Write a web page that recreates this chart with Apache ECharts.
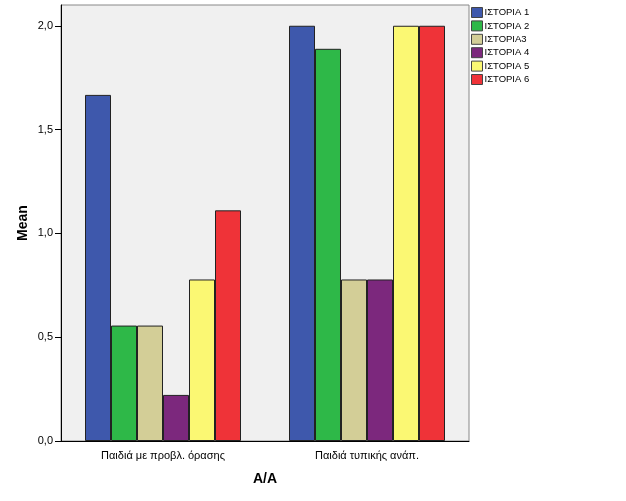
<!DOCTYPE html>
<html>
<head>
<meta charset="utf-8">
<script src="https://cdn.jsdelivr.net/npm/echarts@6/dist/echarts.min.js"></script>
<style>html,body{margin:0;padding:0;background:#fff;}#c{width:626px;height:501px;}</style>
</head>
<body>
<div id="c"></div>
<script>
var categories = ['Παιδιά με προβλ. όρασης', 'Παιδιά τυπικής ανάπ.'];
var seriesNames = ['ΙΣΤΟΡΙΑ 1', 'ΙΣΤΟΡΙΑ 2', 'ΙΣΤΟΡΙΑ3', 'ΙΣΤΟΡΙΑ 4', 'ΙΣΤΟΡΙΑ 5', 'ΙΣΤΟΡΙΑ 6'];
var story1 = [1.667, 2.0];
var story2 = [0.556, 1.889];
var story3 = [0.556, 0.778];
var story4 = [0.222, 0.778];
var story5 = [0.778, 2.0];
var story6 = [1.111, 2.0];
var yTicks = [0, 0.5, 1.0, 1.5, 2.0];
var colors = ['#3E58AC', '#2EB848', '#D3CE97', '#7C287D', '#FBF873', '#EF3338'];
var values = [story1, story2, story3, story4, story5, story6];

var chart = echarts.init(document.getElementById('c'));
var font = 'Liberation Sans, Arial, sans-serif';
chart.setOption({
  animation: false,
  textStyle: {fontFamily: font},
  color: colors,
  grid: {left: 61, top: 5, width: 408, height: 436, show: true, backgroundColor: '#f0f0f0', borderColor: '#888', borderWidth: 1},
  legend: {
    orient: 'vertical', left: 471, top: 7, padding: 0, itemWidth: 11, itemHeight: 10, itemGap: 2.4,
    icon: 'rect',
    itemStyle: {borderColor: '#444', borderWidth: 1},
    textStyle: {fontSize: 9.5, lineHeight: 10, color: '#000', fontFamily: font, padding: [0, 0, 0, -3]},
    data: seriesNames
  },
  xAxis: {
    type: 'category', data: categories,
    name: 'A/A', nameLocation: 'middle', nameGap: 31,
    nameTextStyle: {fontSize: 14, fontWeight: 'bold', color: '#000'},
    axisLine: {lineStyle: {color: '#000', width: 1}},
    axisTick: {alignWithLabel: true, length: 6, lineStyle: {color: '#000'}},
    axisLabel: {fontSize: 11, color: '#000', margin: 9}
  },
  yAxis: {
    type: 'value', min: 0, max: 2.1, interval: 0.5,
    name: 'Mean', nameLocation: 'middle', nameGap: 31, nameMoveOverlap: false,
    nameTextStyle: {fontSize: 14, fontWeight: 'bold', color: '#000'},
    splitLine: {show: false},
    axisLine: {show: true, lineStyle: {color: '#000', width: 1}},
    axisTick: {show: true, length: 6, lineStyle: {color: '#000'}, customValues: yTicks},
    axisLabel: {fontSize: 11, color: '#000', margin: 8, customValues: yTicks,
      formatter: function (v) { return v.toFixed(1).replace('.', ','); }}
  },
  series: values.map(function (vals, i) {
    return {
      name: seriesNames[i], type: 'bar', data: vals,
      barWidth: 26, barGap: '0%',
      itemStyle: {color: colors[i], borderColor: '#222', borderWidth: 1}
    };
  })
});
</script>
</body>
</html>
